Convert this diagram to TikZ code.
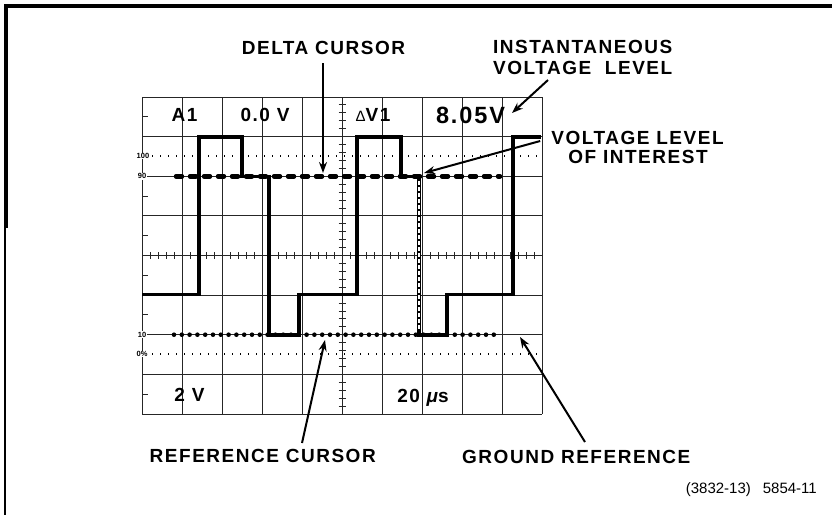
\documentclass[tikz,border=0pt]{standalone}
\usepackage{fontspec}
\setmainfont{Liberation Sans}
\newfontfamily\lblfont[LetterSpace=8]{Liberation Sans Bold}
\newfontfamily\lblitfont[LetterSpace=8]{Liberation Sans Bold Italic}
\newfontfamily\tinyfont{Liberation Sans Bold}
\usetikzlibrary{arrows.meta}
\begin{document}
\begin{tikzpicture}[x=1pt,y=-1pt,
  lbl/.style={font=\lblfont\fontsize{19}{21}\selectfont, inner sep=0pt, anchor=base},
  gridline/.style={line width=0.9pt, black!85},
  trace/.style={line width=3.6pt, line join=miter, line cap=butt},
  ptr/.style={line width=2pt, -{Stealth[length=11pt,width=8pt]}},
  tinylbl/.style={font=\tinyfont\fontsize{7.5}{7.5}\selectfont, inner sep=0.6pt, fill=white},
  dotline/.style={line width=1.4pt, dash pattern=on 1.4pt off 6.6pt},
]
\useasboundingbox (0,0) rectangle (832,515);
% frame
\draw[line width=3.2pt] (832,6) -- (6,6) -- (6,228);
\draw[line width=2pt] (5,226) -- (5,515);
% graticule
\foreach \i in {0,...,10} \draw[gridline] ({142+40*\i},97) -- ({142+40*\i},414);
\foreach \j in {0,...,8} \draw[gridline] (142,{97+39.625*\j}) -- (542,{97+39.625*\j});
\foreach \k in {1,...,49} \draw[gridline] ({142+8*\k},252) -- ({142+8*\k},259);
\foreach \k in {1,...,39} \draw[gridline] (338.5,{97+7.925*\k}) -- (345.5,{97+7.925*\k});
\foreach \j in {0,...,7} \draw[gridline] (142,{97+39.625*(\j+0.5)}) -- (148,{97+39.625*(\j+0.5)});
\draw[dotline] (152,156) -- (541,156);
\draw[dotline] (152,354) -- (541,354);
% small percentage labels
\node[tinylbl] (p100) at (143,156) {100};
\node[tinylbl] (p90) at (142,176.3) {90};
\node[tinylbl] (p10) at (142,334.7) {10};
\node[tinylbl] (p0) at (142,354) {0\%};
% cursors
\draw[line width=4.5pt, line cap=round, dash pattern=on 6pt off 8pt] (176,176.3) -- (500,176.3);
\draw[line width=4.6pt, line cap=round, dash pattern=on 0pt off 7.8pt] (174,334.7) -- (501,334.7);
% waveform
\draw[trace] (142,294.6) -- (199,294.6) -- (199,137) -- (242,137) -- (242,176.3) -- (269,176.3)
  -- (269,334.7) -- (299,334.7) -- (299,294.6) -- (357,294.6) -- (357,137) -- (401,137)
  -- (401,176.3) -- (419,176.3) -- (419,334.7) -- (447,334.7) -- (447,294.6) -- (513,294.6)
  -- (513,137) -- (541,137);
\draw[white, line width=1.3pt, dash pattern=on 4pt off 2pt] (419,181) -- (419,330);
% graticule readouts
\node[lbl] (a1) at (184.5,121) {A1};
\node[lbl] (v0) at (265,121) {0.0 V};
\node[lbl] (dv) at (373,121) {{\setmainfont{Liberation Sans}\fontsize{15}{15}\selectfont Δ}V1};
\node[lbl, font=\lblfont\fontsize{23.5}{25}\selectfont] (v805) at (470.5,123) {8.05V};
\node[lbl] (v2) at (189.5,401) {2 V};
\node[lbl] (t20) at (423,402) {20 {\lblitfont μ}s};
% callout labels
\node[lbl] (dc) at (323.5,54) {DELTA CURSOR};
\node[lbl, anchor=base west] (iv1) at (493,53) {INSTANTANEOUS};
\node[lbl, anchor=base west] (iv2) at (493,74) {VOLTAGE\ \ LEVEL};
\node[lbl] (vl1) at (637.5,144) {VOLTAGE LEVEL};
\node[lbl] (vl2) at (638,163) {OF INTEREST};
\node[lbl, anchor=base east] (rc) at (376,462) {REFERENCE CURSOR};
\node[lbl, anchor=base west] (gr) at (462,463) {GROUND REFERENCE};
\node[font=\fontsize{15}{15}\selectfont, inner sep=0pt, anchor=base east] (fig) at (817,493) {(3832-13)\hspace{12pt}5854-11};
% arrow tips
\coordinate (dcH) at (323,173);
\coordinate (ivH) at (512,113);
\coordinate (vlH) at (424,173);
\coordinate (rcH) at (325,340);
\coordinate (grH) at (520,337);
\draw[ptr] ([shift={(-0.5,9)}]dc.base) -- (dcH);
\draw[ptr] ([shift={(55,6)}]iv2.base west) -- (ivH);
\draw[ptr] ([shift={(-11,-3)}]vl1.base west) -- (vlH);
\draw[ptr] ([shift={(-74,-19)}]rc.base east) -- (rcH);
\draw[ptr] ([shift={(123,-21)}]gr.base west) -- (grH);
\end{tikzpicture}
\end{document}
